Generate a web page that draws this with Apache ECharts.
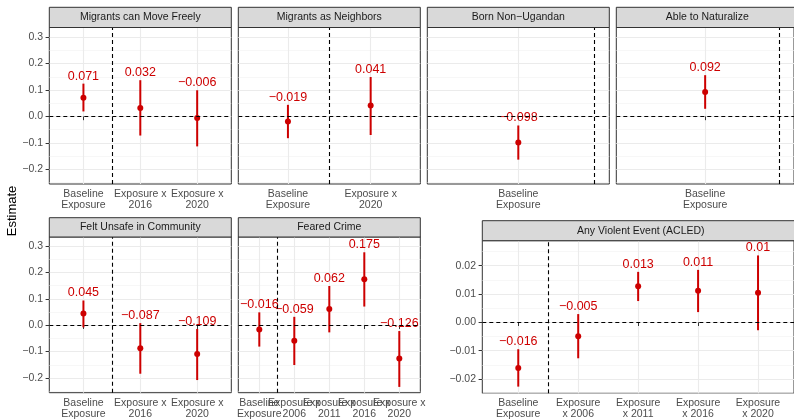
<!DOCTYPE html>
<html>
<head>
<meta charset="utf-8">
<script src="https://cdn.jsdelivr.net/npm/echarts@6/dist/echarts.min.js"></script>
<style>html,body{margin:0;padding:0;background:#fff}#c{width:794px;height:420px}</style>
</head>
<body>
<div id="c"></div>
<script>
// ---------- DATA ----------
const catsMove = ["Baseline\nExposure", "Exposure x\n2016", "Exposure x\n2020"];
const estMove = [0.071, 0.032, -0.006];
const loMove = [0.019, -0.072, -0.113];
const hiMove = [0.124, 0.137, 0.099];

const catsNeighbors = ["Baseline\nExposure", "Exposure x\n2020"];
const estNeighbors = [-0.019, 0.041];
const loNeighbors = [-0.082, -0.070];
const hiNeighbors = [0.044, 0.149];

const catsBorn = ["Baseline\nExposure"];
const estBorn = [-0.098];
const loBorn = [-0.163];
const hiBorn = [-0.034];

const catsNaturalize = ["Baseline\nExposure"];
const estNaturalize = [0.092];
const loNaturalize = [0.029];
const hiNaturalize = [0.156];

const catsUnsafe = ["Baseline\nExposure", "Exposure x\n2016", "Exposure x\n2020"];
const estUnsafe = [0.045, -0.087, -0.109];
const loUnsafe = [-0.008, -0.184, -0.208];
const hiUnsafe = [0.094, 0.008, -0.014];

const catsCrime = ["Baseline\nExposure", "Exposure x\n2006", "Exposure x\n2011", "Exposure x\n2016", "Exposure x\n2020"];
const estCrime = [-0.016, -0.059, 0.062, 0.175, -0.126];
const loCrime = [-0.081, -0.151, -0.027, 0.071, -0.234];
const hiCrime = [0.049, 0.032, 0.149, 0.277, -0.022];

const catsAcled = ["Baseline\nExposure", "Exposure\nx 2006", "Exposure\nx 2011", "Exposure\nx 2016", "Exposure\nx 2020"];
const estAcled = [-0.0161, -0.0049, 0.0127, 0.0111, 0.0104];
const loAcled = [-0.0227, -0.0127, 0.0075, 0.0036, -0.0028];
const hiAcled = [-0.0095, 0.0029, 0.0178, 0.0185, 0.0236];

const yTicks = [-0.2, -0.1, 0, 0.1, 0.2, 0.3];
const yMinor = [-0.25, -0.15, -0.05, 0.05, 0.15, 0.25];
const yTicksAcled = [-0.02, -0.01, 0, 0.01, 0.02];
const yMinorAcled = [-0.025, -0.015, -0.005, 0.005, 0.015, 0.025];

const titles = ["Migrants can Move Freely", "Migrants as Neighbors", "Born Non\u2212Ugandan", "Able to Naturalize",
  "Felt Unsafe in Community", "Feared Crime", "Any Violent Event (ACLED)"];

// ---------- LAYOUT ----------
const FONT = "'Liberation Sans', Arial, Helvetica, sans-serif";
const RED = '#CD0000';
const panels = [
  {cats: catsMove, est: estMove, lo: loMove, hi: hiMove, box: [49.3, 27.5, 182, 156.5], strip: 7.3, y: [-0.255, 0.336], ticks: yTicks, minor: yMinor, dec: 1, showY: true},
  {cats: catsNeighbors, est: estNeighbors, lo: loNeighbors, hi: hiNeighbors, box: [238.3, 27.5, 182, 156.5], strip: 7.3, y: [-0.255, 0.336], ticks: yTicks, minor: yMinor, dec: 1, showY: false},
  {cats: catsBorn, est: estBorn, lo: loBorn, hi: hiBorn, box: [427.3, 27.5, 182, 156.5], strip: 7.3, y: [-0.255, 0.336], ticks: yTicks, minor: yMinor, dec: 1, showY: false},
  {cats: catsNaturalize, est: estNaturalize, lo: loNaturalize, hi: hiNaturalize, box: [616.3, 27.5, 182, 156.5], strip: 7.3, y: [-0.255, 0.336], ticks: yTicks, minor: yMinor, dec: 1, showY: false},
  {cats: catsUnsafe, est: estUnsafe, lo: loUnsafe, hi: hiUnsafe, box: [49.3, 237, 182, 155.7], strip: 217.7, y: [-0.256, 0.335], ticks: yTicks, minor: yMinor, dec: 1, showY: true},
  {cats: catsCrime, est: estCrime, lo: loCrime, hi: hiCrime, box: [238.3, 237, 182, 155.7], strip: 217.7, y: [-0.256, 0.335], ticks: yTicks, minor: yMinor, dec: 1, showY: false},
  {cats: catsAcled, est: estAcled, lo: loAcled, hi: hiAcled, box: [482.3, 240.7, 317, 152.6], strip: 220.7, y: [-0.02506, 0.0288], ticks: yTicksAcled, minor: yMinorAcled, dec: 2, showY: true}
];

function minus(s) { return s.replace('-', '\u2212'); }
function fmtLabel(v) { return minus(String(Math.round(v * 1000) / 1000)); }

const grid = [], xAxis = [], yAxis = [], series = [], graphic = [];
panels.forEach((p, i) => {
  const [l, t, w, h] = p.box;
  const n = p.cats.length;
  const idx = p.cats.map((c, j) => j + 1);
  const oddIdx = idx.filter(v => v % 2 === 1);
  const evenIdx = idx.filter(v => v % 2 === 0);
  grid.push({left: l, top: t, width: w, height: h, show: true, borderColor: '#333', borderWidth: 1, backgroundColor: '#fff'});
  const labelStyle = {show: true, formatter: v => p.cats[Math.round(v) - 1], color: '#4D4D4D',
    fontSize: 10.5, lineHeight: 11, margin: 4.5, fontFamily: FONT, hideOverlap: false,
    showMinLabel: true, showMaxLabel: true};
  const xMain = xAxis.length;
  xAxis.push({
    gridIndex: i, type: 'value', min: 0.4, max: n + 0.6, position: 'bottom',
    axisLine: {show: false},
    axisTick: {show: true, customValues: idx, length: 3.7, lineStyle: {color: '#333', width: 1}},
    axisLabel: Object.assign({customValues: oddIdx}, labelStyle),
    splitLine: {show: true, lineStyle: {color: '#EBEBEB', width: 1.1}}
  });
  if (evenIdx.length) {
    xAxis.push({
      gridIndex: i, type: 'value', min: 0.4, max: n + 0.6, position: 'bottom', offset: 0,
      axisLine: {show: false},
      axisTick: {show: false, customValues: evenIdx},
      axisLabel: Object.assign({customValues: evenIdx}, labelStyle),
      splitLine: {show: false}
    });
  }
  const yMain = yAxis.length;
  yAxis.push({
    gridIndex: i, type: 'value', min: p.y[0], max: p.y[1],
    axisLine: {show: false},
    axisTick: {show: p.showY, customValues: p.ticks, length: 3.7, lineStyle: {color: '#333', width: 1}},
    axisLabel: {show: p.showY, customValues: p.ticks, formatter: v => minus((Math.abs(v) < 1e-9 ? 0 : v).toFixed(p.dec)),
      color: '#4D4D4D', fontSize: 10.5, margin: 6.3, fontFamily: FONT, showMinLabel: true, showMaxLabel: true},
    splitLine: {show: true, lineStyle: {color: '#EBEBEB', width: 1.1}}
  });
  yAxis.push({
    gridIndex: i, type: 'value', min: p.y[0], max: p.y[1],
    axisLine: {show: false},
    axisTick: {show: false, customValues: p.minor},
    axisLabel: {show: false, customValues: p.minor},
    splitLine: {show: true, lineStyle: {color: '#F2F2F2', width: 0.6}}
  });
  // reference lines
  series.push({
    type: 'scatter', xAxisIndex: xMain, yAxisIndex: yMain, data: [[1, 0]], symbolSize: 0, silent: true, z: 1,
    markLine: {silent: true, symbol: ['none', 'none'], label: {show: false},
      lineStyle: {color: '#000', type: [4, 3], width: 1.1},
      data: [{yAxis: 0}, {xAxis: 1.5}]}
  });
  // error bars and labels
  series.push({
    type: 'custom', xAxisIndex: xMain, yAxisIndex: yMain, z: 3,
    data: idx.map((x, j) => [x, p.lo[j], p.hi[j], p.est[j]]),
    encode: {x: 0, y: [1, 2]},
    renderItem: (params, api) => {
      const x = api.value(0), lo = api.value(1), hi = api.value(2), e = api.value(3);
      const a = api.coord([x, lo]), b = api.coord([x, hi]);
      return {type: 'group', children: [
        {type: 'line', shape: {x1: a[0], y1: a[1], x2: b[0], y2: b[1]}, style: {stroke: RED, lineWidth: 2}},
        {type: 'text', z2: 10, style: {text: fmtLabel(e), x: b[0], y: b[1] - 7.5, align: 'center', verticalAlign: 'middle',
          fill: RED, font: '12.5px ' + FONT}}
      ]};
    }
  });
  series.push({
    type: 'scatter', xAxisIndex: xMain, yAxisIndex: yMain, z: 4,
    data: idx.map((x, j) => [x, p.est[j]]), symbolSize: 6, itemStyle: {color: RED, opacity: 1}
  });
  // strip
  graphic.push({type: 'rect', shape: {x: l, y: p.strip, width: w, height: t - p.strip},
    style: {fill: '#D9D9D9', stroke: '#333', lineWidth: 1}, z: 10});
  graphic.push({type: 'text', style: {text: titles[i], x: l + w / 2, y: p.strip + (t - p.strip) / 2, align: 'center', verticalAlign: 'middle',
    fill: '#1A1A1A', font: '10.5px ' + FONT}, z: 11});
});
graphic.push({type: 'text', rotation: Math.PI / 2, x: 12.7, y: 211,
  style: {text: 'Estimate', align: 'center', verticalAlign: 'middle', fill: '#000', font: '13px ' + FONT}, z: 11});

const chart = echarts.init(document.getElementById('c'), null, {renderer: 'canvas', width: 794, height: 420});
chart.setOption({animation: false, backgroundColor: '#fff', grid, xAxis, yAxis, series, graphic});
</script>
</body>
</html>
